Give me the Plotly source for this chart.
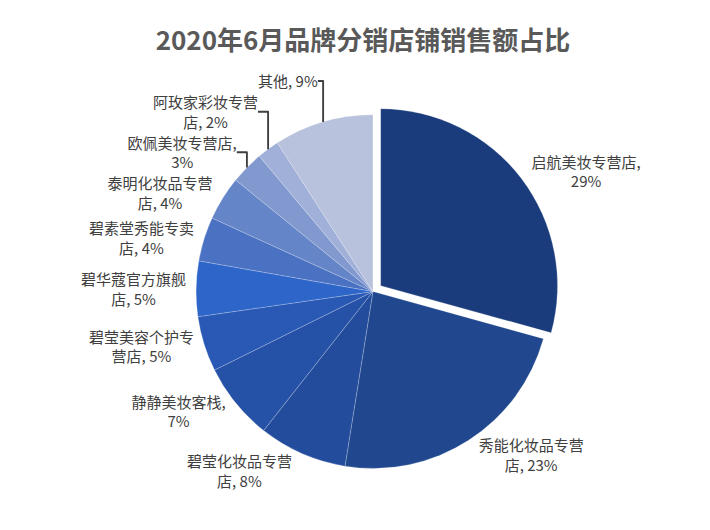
import plotly.graph_objects as go

# 店铺名称（顺时针，从12点方向开始）
stores = [
    "启航美妆专营店",
    "秀能化妆品专营店",
    "碧莹化妆品专营店",
    "静静美妆客栈",
    "碧莹美容个护专营店",
    "碧华蔻官方旗舰店",
    "碧素堂秀能专卖店",
    "泰明化妆品专营店",
    "欧佩美妆专营店",
    "阿玫家彩妆专营店",
    "其他",
]
# 销售额占比 (%)
shares = [29, 23, 8, 7, 5, 5, 4, 4, 3, 2, 9]
# 标签换行，和原图一致
label_text = [
    "启航美妆专营店,<br>29%",
    "秀能化妆品专营<br>店, 23%",
    "碧莹化妆品专营<br>店, 8%",
    "静静美妆客栈,<br>7%",
    "碧莹美容个护专<br>营店, 5%",
    "碧华蔻官方旗舰<br>店, 5%",
    "碧素堂秀能专卖<br>店, 4%",
    "泰明化妆品专营<br>店, 4%",
    "欧佩美妆专营店,<br>3%",
    "阿玫家彩妆专营<br>店, 2%",
    "其他, 9%",
]

colors = [
    "#1b3c7c", "#21488f", "#234d9c", "#2552a6", "#2959b4", "#2e65c9",
    "#4a71c2", "#6485c7", "#8199cf", "#a0b0d8", "#b9c2dd",
]

fig = go.Figure(
    go.Pie(
        labels=stores,
        values=shares,
        text=label_text,
        textinfo="text",
        textposition="outside",
        sort=False,
        direction="clockwise",
        rotation=0,
        pull=[0.055] + [0] * (len(stores) - 1),
        marker=dict(colors=colors, line=dict(color="rgba(255,255,255,0.35)", width=0.6)),
        textfont=dict(family="Noto Sans CJK SC", size=15, color="#404040"),
        domain=dict(x=[0.251, 0.777], y=[0.113, 0.817]),
        showlegend=False,
        automargin=False,
    )
)

fig.update_layout(
    width=710,
    height=530,
    margin=dict(l=0, r=0, t=0, b=0),
    paper_bgcolor="white",
    title=dict(
        text="<b>2020年6月品牌分销店铺销售额占比</b>",
        x=0.5,
        xanchor="center",
        y=0.938,
        yanchor="middle",
        font=dict(family="Noto Sans CJK SC", size=26, color="#595959"),
    ),
)

fig.write_html("out.html")
